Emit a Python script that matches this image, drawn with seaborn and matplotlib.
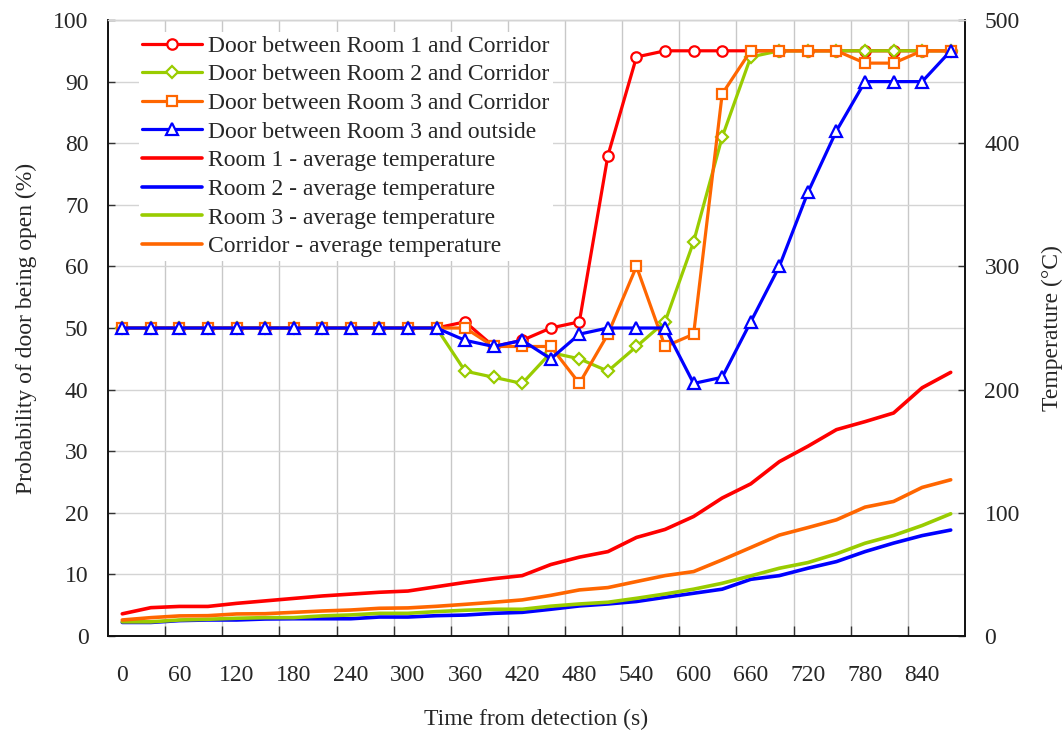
import numpy as np
import pandas as pd
import matplotlib
matplotlib.use("Agg")
import matplotlib.pyplot as plt
from matplotlib.ticker import FixedLocator, MultipleLocator
import seaborn as sns

# Time axis (s), one sample every 30 s
time_s = list(range(0, 900, 30))

# Probability of each door being open (%)
door_r1_corr = [50, 50, 50, 50, 50, 50, 50, 50, 50, 50, 50, 50,
                51, 47, 48, 50, 51, 78, 94, 95, 95, 95, 95, 95, 95, 95, 95, 95, 95, 95]
door_r2_corr = [50, 50, 50, 50, 50, 50, 50, 50, 50, 50, 50, 50,
                43, 42, 41, 46, 45, 43, 47, 51, 64, 81, 94, 95, 95, 95, 95, 95, 95, 95]
door_r3_corr = [50, 50, 50, 50, 50, 50, 50, 50, 50, 50, 50, 50,
                50, 47, 47, 47, 41, 49, 60, 47, 49, 88, 95, 95, 95, 95, 93, 93, 95, 95]
door_r3_out = [50, 50, 50, 50, 50, 50, 50, 50, 50, 50, 50, 50,
               48, 47, 48, 45, 49, 50, 50, 50, 41, 42, 51, 60, 72, 82, 90, 90, 90, 95]

# Average gas temperatures (°C)
temp_room1 = [18, 23, 24, 24, 26.5, 28.5, 30.5, 32.5, 34, 35.5, 36.5, 40, 43.5, 46.5, 49,
              58, 64, 68.5, 80, 86.5, 97, 112, 123.5, 141.5, 154, 167.5, 174, 181, 201.5, 214]
temp_room2 = [11, 11, 12.5, 13, 13, 13.8, 14, 14, 14, 15.4, 15.4, 16.5, 17, 18.4, 19.2,
              21.7, 24.4, 26, 28, 31.4, 34.7, 38, 46, 49, 55, 60.4, 68.5, 75.4, 81.5, 86]
temp_room3 = [11.5, 11.5, 13, 13.6, 14.4, 14.9, 14.9, 16.3, 17.1, 18.4, 18.4, 19.8, 20.9, 21.7, 21.7,
              24.2, 26, 27.4, 30.6, 34.1, 38, 42.8, 48.8, 55, 59.6, 66.7, 75.3, 81.6, 89.7, 99.2]
temp_corr = [13, 14.9, 16.3, 16.5, 17.9, 18.1, 19.2, 20.3, 21.1, 22.5, 22.8, 24.1, 25.7, 27.4, 29.3,
             33, 37.4, 39.3, 44.2, 49, 52.3, 61.8, 71.8, 81.9, 88, 94.3, 104.6, 109.2, 120.6, 126.8]

x_labels = list(range(0, 900, 60))

door_names = ["Door between Room 1 and Corridor", "Door between Room 2 and Corridor",
              "Door between Room 3 and Corridor", "Door between Room 3 and outside"]
temp_names = ["Room 1 - average temperature", "Room 2 - average temperature",
              "Room 3 - average temperature", "Corridor - average temperature"]

RED, GREEN, ORANGE, BLUE = "#FF0000", "#99CC00", "#FF6600", "#0000FF"

sns.set_theme(style="white")
plt.rcParams["font.family"] = ["Liberation Serif", "DejaVu Serif"]
FS = 17
FS_LEG = 17

fig = plt.figure(figsize=(10.63, 7.36), dpi=100)
ax = fig.add_axes([108 / 1063, 1 - 636 / 736, (965 - 108) / 1063, (636 - 20) / 736])
ax2 = ax.twinx()

doors = pd.DataFrame({"t": time_s, door_names[0]: door_r1_corr, door_names[1]: door_r2_corr,
                      door_names[2]: door_r3_corr, door_names[3]: door_r3_out})
temps = pd.DataFrame({"t": time_s, temp_names[0]: temp_room1, temp_names[1]: temp_room2,
                      temp_names[2]: temp_room3, temp_names[3]: temp_corr})

door_style = [(door_names[0], RED, "o", 7.5),
              (door_names[1], GREEN, "D", 6.0),
              (door_names[2], ORANGE, "s", 7.5),
              (door_names[3], BLUE, "^", 9.0)]
handles = []
for name, col, mk, ms in door_style:
    sns.lineplot(data=doors, x="t", y=name, ax=ax, color=col, linewidth=2.3,
                 marker=mk, markersize=ms, markerfacecolor="white",
                 markeredgecolor=col, markeredgewidth=1.6, label=name, legend=False)
    handles.append(ax.lines[-1])

temp_cols = [RED, BLUE, GREEN, ORANGE]
for name, col in zip(temp_names, temp_cols):
    sns.lineplot(data=temps, x="t", y=name, ax=ax2, color=col, linewidth=2.6,
                 label=name, legend=False)
    handles.append(ax2.lines[-1])

# Left axis: probability
ax.set_xlim(-15, 885)
ax.set_ylim(0, 100)
ax.yaxis.set_major_locator(MultipleLocator(10))
ax.set_xticks(x_labels)
ax.set_xticklabels([str(v) for v in x_labels])
ax.xaxis.set_minor_locator(FixedLocator(list(range(45, 870, 60))))
ax.tick_params(axis="x", which="major", length=0, pad=21, labelsize=FS)
ax.tick_params(axis="x", which="minor", direction="in", length=7, width=1.0, color="#333333",
               bottom=True)
ax.tick_params(axis="y", which="major", direction="in", length=5, width=1.0, color="#333333",
               left=True, pad=14, labelsize=FS)
ax.grid(False)
ax.xaxis.grid(True, which="minor", color="#C8C8C8", linewidth=1.0)
ax.yaxis.grid(True, which="major", color="#D4D4D4", linewidth=1.0)
ax.set_axisbelow(True)

# Right axis: temperature
ax2.set_ylim(0, 500)
ax2.yaxis.set_major_locator(MultipleLocator(100))
ax2.tick_params(axis="y", which="major", direction="in", length=5, width=1.0, color="#333333",
                right=True, pad=14, labelsize=FS)
ax2.grid(False)

for a in (ax, ax2):
    for side in ("left", "bottom", "right"):
        a.spines[side].set_color("#111111")
        a.spines[side].set_linewidth(1.2)
    a.spines["top"].set_color("#D4D4D4")
    a.spines["top"].set_linewidth(1.0)

ax.set_xlabel("Time from detection (s)", fontsize=FS, labelpad=16)
ax.set_ylabel("Probability of door being open (%)", fontsize=FS, labelpad=12)
ax2.set_ylabel("Temperature (°C)", fontsize=FS, labelpad=16)

leg = ax2.legend(handles=handles, labels=door_names + temp_names, loc="upper left",
                 bbox_to_anchor=(0.022, 1.0), fontsize=FS_LEG, frameon=True, fancybox=False,
                 framealpha=1.0, edgecolor="white", handlelength=2.55, handletextpad=0.22,
                 labelspacing=0.3, borderpad=0.15)
leg.get_frame().set_linewidth(0)

fig.savefig("out.png", dpi=100)
